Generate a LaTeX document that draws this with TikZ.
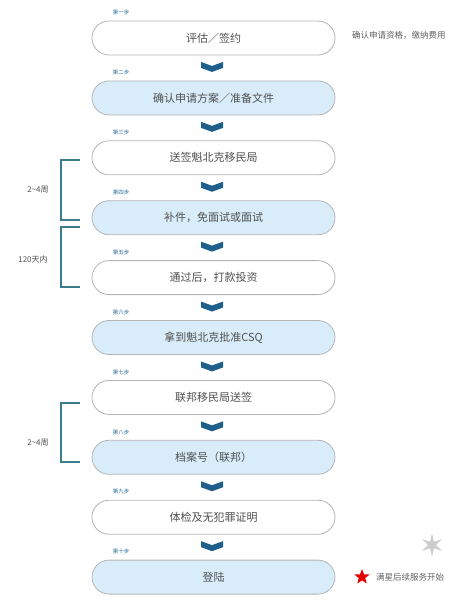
\documentclass[tikz,border=0pt]{standalone}
\usepackage{fontspec}
\setmainfont{Noto Sans CJK SC}
\usetikzlibrary{calc}
\definecolor{pillfill}{HTML}{D8EDF9}
\definecolor{pillline}{HTML}{B4B4B4}
\definecolor{chev}{HTML}{1E5F8C}
\definecolor{steplbl}{HTML}{2A6E9C}
\definecolor{brk}{HTML}{3C7C8E}
\definecolor{txt}{HTML}{505050}
\tikzset{
  x=1pt,y=-1pt,
  pill/.style={draw=pillline,line width=0.8pt,rounded corners=17pt,minimum width=243pt,minimum height=34pt,inner sep=0pt,font=\fontsize{11}{13}\selectfont,text=txt},
  pillw/.style={pill,fill=white},
  pillb/.style={pill,fill=pillfill},
  steplabel/.style={font=\fontsize{5.5}{7}\selectfont,text=steplbl,anchor=west,inner sep=0pt},
  sidetext/.style={font=\fontsize{8.5}{10}\selectfont,text=txt!90,anchor=west,inner sep=0pt},
  brlabel/.style={font=\fontsize{8}{9}\selectfont,text=txt},
  brace/.style={draw=brk,line width=1.1pt},
  chevron/.pic={\fill[chev] (-11,-6) -- (0,-2) -- (11,-6) -- (11,0) -- (0,4) -- (-11,0) -- cycle;}
}
\begin{document}
\begin{tikzpicture}
\useasboundingbox (0,0) rectangle (468,600);
\foreach \i/\t/\s in {1/{评估／签约}/pillw,2/{确认申请方案／准备文件}/pillb,3/{送签魁北克移民局}/pillw,4/{补件，免面试或面试}/pillb,5/{通过后，打款投资}/pillw,6/{拿到魁北克批准CSQ}/pillb,7/{联邦移民局送签}/pillw,8/{档案号（联邦）}/pillb,9/{体检及无犯罪证明}/pillw,10/{登陆}/pillb}{
  \node[\s] (s\i) at (213.5,{38+(\i-1)*59.9}) {\t};
}
\foreach \i/\l in {1/第一步,2/第二步,3/第三步,4/第四步,5/第五步,6/第六步,7/第七步,8/第八步,9/第九步,10/第十步}{
  \node[steplabel] (l\i) at ($(s\i.north west)+(21,-8)$) {\l};
}
\foreach \a/\b in {1/2,2/3,3/4,4/5,5/6,6/7,7/8,8/9,9/10}{
  \path ($(s\a.south)!0.5!(s\b.north)+(-1.5,0)$) coordinate (c\a) pic {chevron};
}
% side text
\node[sidetext] (r1) at (352,35) {确认申请资格，缴纳费用};
% brackets
\coordinate (b1a) at (80,160); \coordinate (b1b) at (80,220);
\draw[brace] (b1a) -- ++(-19,0) |- (b1b);
\node[brlabel] (t1) at (38,190) {2\textasciitilde4周};
\coordinate (b2a) at (80,227); \coordinate (b2b) at (80,287);
\draw[brace] (b2a) -- ++(-19,0) |- (b2b);
\node[brlabel] (t2) at (33,259) {120天内};
\coordinate (b3a) at (80,403); \coordinate (b3b) at (80,462);
\draw[brace] (b3a) -- ++(-19,0) |- (b3b);
\node[brlabel] (t3) at (38,443) {2\textasciitilde4周};
% stars
\coordinate (gs) at (432,545);
\fill[gray!40] ($(gs)+(90:11.5)$) \foreach \k in {1,...,11}{ -- ($(gs)+({90+\k*30}:{mod(\k,2)==1 ? 3.8 : 11.5})$) } -- cycle;
\coordinate (rs) at (362,577);
\fill[red!90!black] ($(rs)+(-90:8)$) \foreach \k in {1,...,9}{ -- ($(rs)+({-90+\k*36}:{mod(\k,2)==1 ? 3.4 : 8})$) } -- cycle;
\node[sidetext] (r2) at (376,577) {满星后续服务开始};
\end{tikzpicture}
\end{document}
